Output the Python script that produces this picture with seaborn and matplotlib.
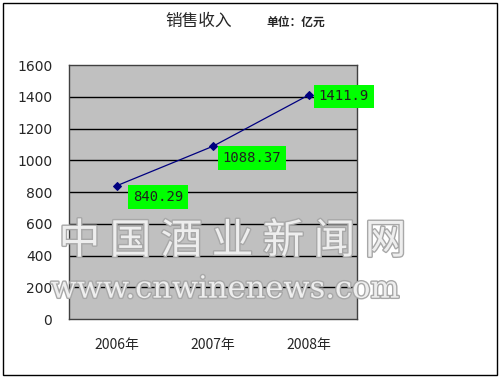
import matplotlib
matplotlib.use("Agg")
import matplotlib.pyplot as plt
import matplotlib.patheffects as pe
import seaborn as sns
import pandas as pd

years = ["2006年", "2007年", "2008年"]
revenue = [840.29, 1088.37, 1411.9]
value_labels = ["840.29", "1088.37", "1411.9"]
y_ticks = [0, 200, 400, 600, 800, 1000, 1200, 1400, 1600]

sns.set_theme(style="white")
plt.rcParams['font.family'] = ['Noto Sans CJK SC', 'DejaVu Sans']

df = pd.DataFrame({"idx": range(len(years)), "year": years, "revenue": revenue})

fig = plt.figure(figsize=(5, 3.78), dpi=100)
fig.patch.set_facecolor("white")
# outer border
fig.add_artist(plt.Rectangle((0.006, 0.008), 0.988, 0.984, transform=fig.transFigure,
                             fill=False, edgecolor="black", linewidth=1.0))

ax = fig.add_axes([0.138, 0.156, 0.576, 0.672])
ax.set_facecolor("#c0c0c0")

ax.set_ylim(0, 1600)
ax.set_xlim(-0.5, len(years) - 0.5)
ax.set_yticks(y_ticks)
ax.set_yticklabels([str(v) for v in y_ticks], fontsize=10, family=['DejaVu Sans'])
for v in y_ticks[1:-1]:
    ax.axhline(v, color="black", linewidth=1.0, zorder=1)

sns.lineplot(data=df, x="idx", y="revenue", ax=ax, color="#000080", linewidth=0.9,
             marker="D", markersize=4, markeredgecolor="#000080", zorder=3, legend=False)

ax.set_xticks(range(len(years)))
ax.set_xticklabels(years, fontsize=10)
ax.set_xticks([0.5, 1.5], minor=True)
ax.tick_params(axis="x", which="major", length=0, pad=14)
ax.tick_params(axis="x", which="minor", length=4, direction="in", color="black", width=1)
ax.tick_params(axis="y", length=0, pad=12)
ax.set_xlabel("")
ax.set_ylabel("")
for s in ax.spines.values():
    s.set_color("#404040")
    s.set_linewidth(1.0)

offsets = [(0.17, -73), (0.10, -75), (0.10, -10)]
for i, (txt, val) in enumerate(zip(value_labels, revenue)):
    dx, dy = offsets[i]
    ax.text(i + dx, val + dy, txt, fontsize=10, family=['DejaVu Sans Mono'], ha="left", va="center",
            color="#202020", zorder=4,
            bbox=dict(boxstyle="square,pad=0.35", facecolor="#00ff00", edgecolor="none"))

fig.text(0.398, 0.945, "销售收入", fontsize=12, ha="center", va="center")
fig.text(0.592, 0.940, "单位：亿元", fontsize=8.5, fontweight="bold", ha="center", va="center")

# watermark
wm = [pe.withStroke(linewidth=2, foreground="#a8a8a8")]
fig.text(0.465, 0.36, "中 国 酒 业 新 闻 网", fontsize=30, ha="center", va="center", color="#eeeeee",
         path_effects=wm, zorder=10)
fig.text(0.45, 0.235, "www.cnwinenews.com", fontsize=22, ha="center", va="center", color="#eeeeee",
         family=['DejaVu Serif'], path_effects=wm, zorder=10)

fig.savefig("out.png", dpi=100)
